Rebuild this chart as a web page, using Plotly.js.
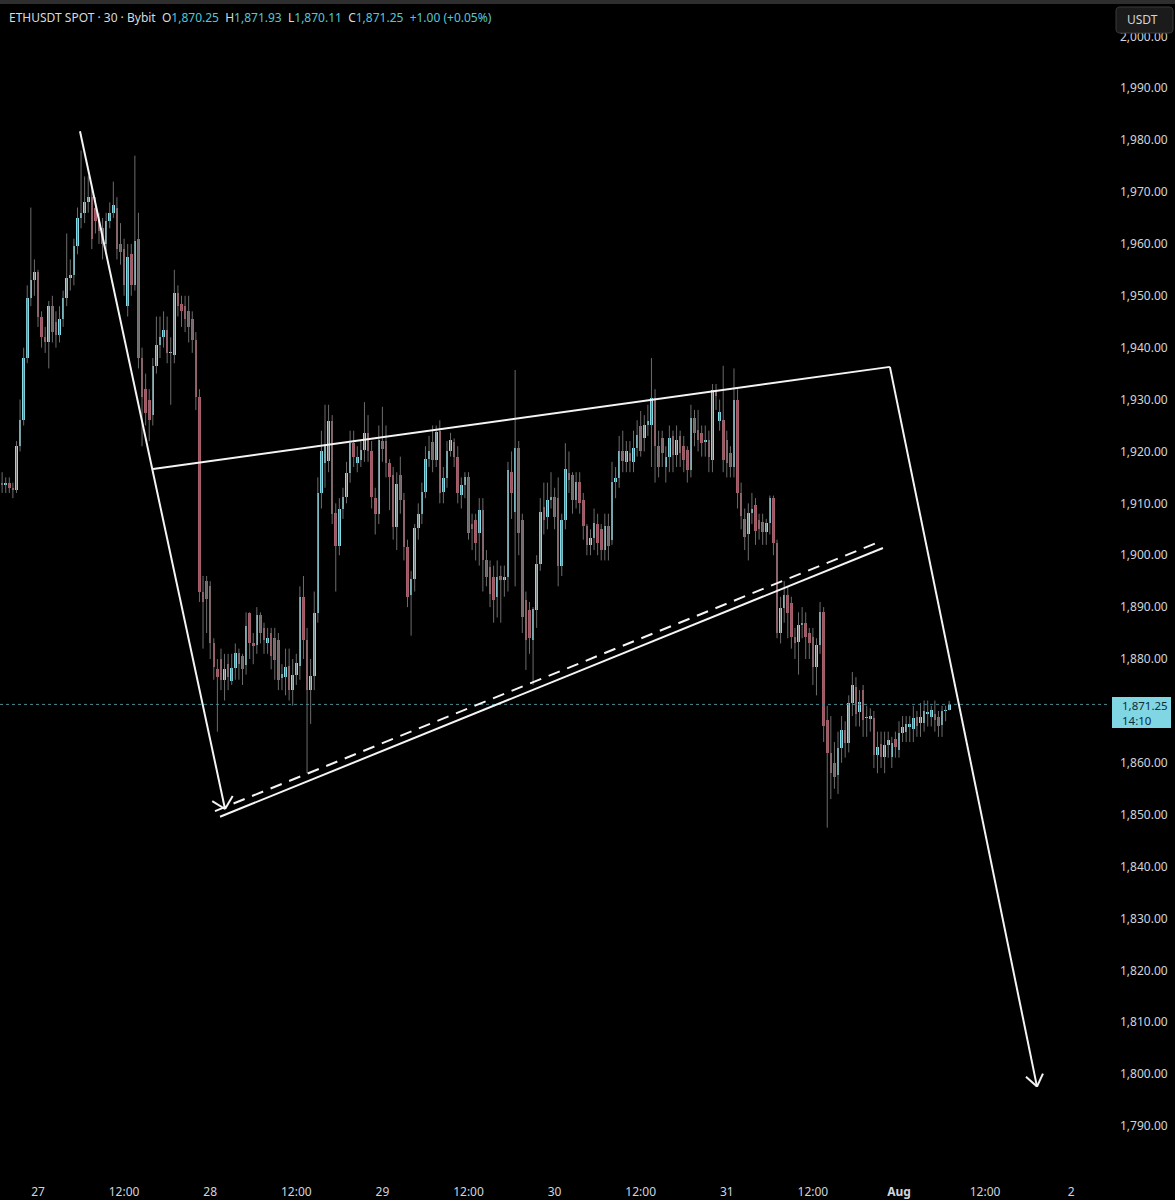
<!DOCTYPE html>
<html><head><meta charset="utf-8">
<script src="https://cdn.plot.ly/plotly-3.0.1.min.js"></script>
<style>html,body{margin:0;padding:0;background:#000;overflow:hidden}#chart{width:1175px;height:1200px}</style>
</head><body><div id="chart"></div>
<script>
// ---- data (30-minute bars, ETHUSDT) ----
const firstBar = '2023-07-26T19:00:00Z';
const barMinutes = 30;
const opens = [
1914,1913.5,1914,1913,1912.5,1921,1926,1938,1949.5,1953,
1954.5,1946,1942,1941,1948,1945,1942.5,1945.5,1949.5,1953.5,
1954,1959.5,1965,1966,1968,1969,1967,1964.5,1963,1960,
1964.5,1966,1967,1960,1959,1948,1958,1952,1961,1938,
1932,1930,1927,1936.5,1940.5,1942,1943.5,1939,1938.5,1950.5,
1948.5,1948,1947,1945.5,1941.5,1930.5,1893,1895,1894,1883,
1878,1880,1876,1879,1875.7,1878.3,1881.2,1880.5,1878.9,1888.8,
1883,1882.7,1888.5,1886,1883,1885,1884,1883.7,1876.3,1876.5,
1878.6,1874,1877,1878.6,1892,1883.7,1874,1876.7,1888.8,1912,
1917.7,1918.1,1925.8,1908.1,1901.7,1909,1911.3,1915.8,1921.6,1917.7,
1918.4,1920.3,1923.5,1920,1911,1908,1922,1922,1917.7,1915.4,
1905.5,1915.4,1910.6,1901.6,1892.3,1895.5,1905.2,1908,1912.2,1918.6,
1921.9,1918.3,1924,1912.2,1914.8,1920,1921.9,1919,1911.6,1913.5,
1915.1,1906,1906.8,1904.2,1908.7,1899,1897.8,1895.9,1892,1896,
1895.3,1895.9,1916,1908.4,1920.6,1906.8,1891.4,1889.4,1883.7,1889.5,
1898.4,1909.3,1907.4,1910.6,1911.3,1911,1898,1906.8,1915.8,1915.4,
1910.6,1914.2,1910.7,1905.6,1902,1903.3,1906,1905,1901,1905.6,
1903,1914.2,1914.9,1920,1918,1919.7,1918,1920.7,1925,1922.6,
1925.1,1925.1,1930.3,1921,1922.6,1917,1919,1922.9,1919.4,1922.9,
1921,1920.3,1916.5,1926.4,1924.2,1923.5,1921.9,1922.3,1918.4,1931.9,
1925.8,1926.1,1922.3,1919.7,1917.1,1930,1912,1907,1904,1908.1,
1909.6,1906.8,1906.5,1904.5,1906.2,1911,1902.3,1885,1889.8,1892.3,
1890.7,1884.3,1883.3,1886.6,1887,1885,1884.3,1878.5,1882.7,1889.1,
1868.3,1861.8,1860,1857.7,1862.8,1866.3,1863.8,1871.5,1874.7,1869.8,
1874,1868.6,1868.5,1868.6,1861.5,1863.7,1861.2,1863.4,1861.2,1864.5,
1862.5,1865.7,1866,1866.9,1866.6,1868.9,1867.6,1867.6,1869.5,1868.9,
1869.5,1868.9,1867.3,1869.9,1870.25];
const highs = [
1916,1915,1915,1914,1922,1930,1940,1952,1967,1957,
1955,1947,1944,1949,1950,1947,1948,1951,1962,1957,
1961,1967,1978,1973,1973,1971,1969,1966,1965,1966,
1968,1972,1969,1964,1961,1960,1960,1977,1966,1940,
1935,1932,1938,1946,1946,1947,1946,1942,1955,1952,
1950,1950,1950,1947,1943,1932,1896,1896,1895,1884,
1880,1882,1881,1881,1881,1883,1882,1881,1889,1889,
1885,1890,1889,1887,1886,1886,1886,1885,1879,1882,
1882,1880,1881,1894,1896,1886,1880,1893,1915,1924,
1929,1929,1927,1910,1911,1913,1918,1924,1924,1921,
1922,1929.5,1927,1922,1913,1925,1928.6,1925,1918.5,1917,
1916,1919,1912,1903,1897,1906,1910,1914,1921,1923,
1925,1925,1926,1917,1922,1923.6,1922.5,1921,1915,1916,
1916,1908,1908,1911,1911,1901,1899,1898,1899,1898,
1898,1918,1920,1935.7,1922,1908,1893,1891,1890,1900,
1911,1914,1914,1916,1913,1915,1908,1921.6,1920,1916,
1916,1916,1912,1906,1905,1909,1908,1906,1908,1908,
1918,1917,1923,1924,1922,1922,1924,1926,1927.8,1927,
1929,1938,1932,1924,1924,1921,1925,1924,1925,1924,
1923,1921,1929,1928,1928,1925,1925,1924,1933,1933,
1930,1936.5,1924,1921,1936,1932,1914,1909,1910,1912,
1911,1908,1908,1907,1911.5,1911.5,1903,1892,1895,1894,
1892,1886,1889,1890,1889,1886,1886,1884,1891,1890,
1871,1869,1864,1866,1869,1868,1873,1877.5,1876.5,1874,
1875,1871,1870.5,1870,1866,1866,1866,1866,1865,1866,
1868,1869,1869,1869,1871,1870,1871.5,1872,1872,1871,
1872,1870,1871,1871,1871.93];
const lows = [
1912,1912,1912,1911,1912,1920,1925,1937,1948,1950,
1944,1940,1939,1936,1941,1940,1941,1944,1948,1951,
1952,1958,1963,1964,1966,1959,1962,1960,1957,1958,
1963,1965,1957,1956,1950,1946,1950,1951,1936,1921,
1925,1922,1925,1935,1938,1940,1937,1929,1937,1946,
1944,1943,1941,1939,1928,1891,1882,1885,1880,1876,
1866,1874,1872,1874,1875,1876,1876,1875,1877,1880,
1879,1881,1883,1881,1881,1878,1876,1874,1874,1873,
1872,1871,1875,1876,1880,1858,1867.5,1874,1887,1909,
1913,1916,1906,1893,1900,1907,1910,1914,1917,1916,
1917,1918,1918,1909,1904,1906,1918,1915,1908.7,1903,
1901,1908,1899,1890,1884.5,1893,1903,1906,1911,1917,
1916,1917,1910,1910,1913,1919,1917,1910,1909,1911,
1903,1901,1899,1898,1893,1894,1890,1887,1888,1887,
1892,1893,1907,1894,1900,1885,1877.9,1881,1875,1886,
1897,1904,1905,1909,1905,1894,1896,1905,1912,1908,
1909,1908,1903,1900,1900,1901,1900,1899,1899,1899,
1902,1911,1913,1916,1916,1916,1916,1919,1919,1920,
1923,1917,1914,1915,1917,1914,1916,1916,1917,1917,
1916,1914,1915,1921,1920,1919,1919,1916,1916,1928,
1924,1916,1915,1915,1915,1909,1905,1901,1899,1906,
1902,1903,1902,1902,1904,1900,1884,1883,1887,1884,
1882,1880,1877,1884,1880,1880,1875,1873,1881,1864,
1847.5,1853,1855,1854,1860,1861,1862,1869,1867,1867,
1865,1865,1866,1859,1858,1859,1858,1861,1859,1861,
1861,1864,1864,1864,1864,1865,1865,1866,1867,1867,
1866,1865,1865,1868,1870.11];
const closes = [
1913.5,1914,1913,1912.5,1921,1926,1938,1949.5,1953,1954.5,
1946,1942,1941,1948,1943,1942.5,1945.5,1949.5,1953.5,1954,
1959.5,1965,1966,1968,1969,1961,1964.5,1962.5,1960,1964.5,
1966,1967.5,1959,1958.5,1952,1957.5,1952,1960.5,1938,1930.5,
1927.5,1926,1936.5,1940.5,1942,1943.5,1939,1939.2,1950.5,1948,
1947,1945.5,1944,1941.5,1930.5,1893,1891,1891.5,1883,1878.5,
1876.5,1876,1878,1876.5,1878.3,1881.2,1879,1878,1886.3,1883,
1882.5,1888.5,1885,1883.7,1884,1880.5,1879.8,1876,1877.2,1878.5,
1874,1877,1879.2,1892,1883.7,1874,1876.7,1888.8,1912,1920,
1921,1925.8,1908,1901.7,1909,1911.3,1915.8,1921.6,1919,1919,
1920.3,1923.5,1920,1911.3,1908,1922.2,1920.5,1917.7,1915,1905.5,
1913.8,1910.6,1901.6,1892,1895.5,1905.2,1908,1912.2,1918.6,1920,
1918.3,1923.8,1912,1914.8,1920,1922.2,1919,1912,1913.5,1915.1,
1904.2,1905,1902.3,1908.7,1899,1895.9,1892.6,1891.4,1895.9,1895.3,
1895.9,1916.4,1912,1920.6,1904.2,1888.1,1883.7,1884,1889.7,1898.4,
1908.4,1906.8,1910.6,1911.3,1907.4,1898,1906.8,1916.7,1914.5,1910.6,
1914.2,1910,1905.6,1902,1903.3,1906.2,1902.4,1901,1905.6,1901.7,
1914.2,1914.9,1920,1918.1,1920,1918.1,1920.7,1923.2,1920,1925.1,
1925.8,1930.3,1921,1917.1,1919.7,1919,1922.6,1919.4,1922.3,1919.7,
1918.4,1916.5,1926.4,1923.5,1922.3,1921.6,1921.9,1919,1931.9,1930.6,
1927.7,1918.4,1917.8,1917.1,1930,1912,1907.5,1903.6,1908.1,1909,
1904.6,1905,1904.5,1906.2,1911,1902.3,1885,1889.8,1892.3,1888.8,
1884.3,1883,1886.6,1887,1884.3,1883,1878.5,1882.7,1889.1,1867,
1861.8,1858,1857.3,1862.8,1866.3,1863.8,1871.5,1875,1869.5,1871.8,
1868.3,1868.6,1869,1861.5,1863.1,1861.2,1863.4,1864.4,1863.8,1863.1,
1865.7,1866.9,1867.5,1867.5,1868.6,1867,1868.9,1869.9,1869.8,1870.2,
1868.2,1867,1869.9,1870.1,1871.25];

const xTickVals = ['2023-07-27 00:00','2023-07-27 12:00','2023-07-28 00:00','2023-07-28 12:00','2023-07-29 00:00','2023-07-29 12:00','2023-07-30 00:00','2023-07-30 12:00','2023-07-31 00:00','2023-07-31 12:00','2023-08-01 00:00','2023-08-01 12:00','2023-08-02 00:00'];
const xTickText = ['27','12:00','28','12:00','29','12:00','30','12:00','31','12:00','<b>Aug</b>','12:00','2'];
// 1,870.00 is hidden behind the last-price label in the reference
const yTickVals = [1790,1800,1810,1820,1830,1840,1850,1860,1880,1890,1900,1910,1920,1930,1940,1950,1960,1970,1980,1990,2000];
const lastPrice = 1871.25;
const lastPriceText = '1,871.25';
const countdownText = '14:10';

// drawn trend lines (time, price)
const lineDown1 = [['2023-07-27 05:51',1981.7],['2023-07-28 02:04',1851.1]];
const arrow1    = [['2023-07-28 00:17',1852.6],['2023-07-28 02:04',1851.1],['2023-07-28 03:08',1853.6]];
const lineTop   = [['2023-07-27 16:02',1916.6],['2023-07-31 22:44',1936.3]];
const lineDown2 = [['2023-07-31 22:44',1936.3],['2023-08-01 19:14',1797.6]];
const arrow2    = [['2023-08-01 17:42',1799.5],['2023-08-01 19:14',1797.6],['2023-08-01 20:04',1800.1]];
const lineLow   = [['2023-07-28 01:22',1849.6],['2023-07-31 21:46',1901.4]];
const lineDash  = [['2023-07-28 00:40',1850.7],['2023-07-31 21:38',1902.8]];

// ---- build ----
function fmt(ms){return new Date(ms).toISOString().slice(0,19).replace('T',' ');}
const t0 = Date.parse(firstBar);
const times = opens.map((_,i)=>fmt(t0 + i*barMinutes*60000));

const upColor='#84dde9', downColor='#a85e6b', wickColor='#6c6c6c';
const wx=[], wy=[];
times.forEach((t,i)=>{wx.push(t,t,null);wy.push(lows[i],highs[i],null);});
const bodyBase = opens.map((o,i)=>Math.min(o,closes[i]));
const bodyH = opens.map((o,i)=>Math.max(Math.abs(closes[i]-o),0.25));
const bodyCol = opens.map((o,i)=>closes[i]>=o?upColor:downColor);

const traces = [
 {type:'scatter',mode:'lines',x:wx,y:wy,line:{color:wickColor,width:1},hoverinfo:'skip',connectgaps:false},
 {type:'bar',x:times,y:bodyH,base:bodyBase,width:barMinutes*60000*0.72,marker:{color:bodyCol,line:{width:0}},hoverinfo:'skip'}
];

const W=1110, H=1180; // plot area px
const px=(x)=>x/W, py=(y)=>1-y/H;
const lineCol='#f4f4f4';
function seg(a,b,dash){return {type:'line',xref:'x',yref:'y',x0:a[0],y0:a[1],x1:b[0],y1:b[1],line:{color:lineCol,width:2,dash:dash||'solid'}};}
function rrect(x0,y0,x1,y1,r){
 const X=(v)=>px(v).toFixed(5), Y=(v)=>py(v).toFixed(5);
 return `M${X(x0+r)},${Y(y0)} L${X(x1-r)},${Y(y0)} Q${X(x1)},${Y(y0)} ${X(x1)},${Y(y0+r)} L${X(x1)},${Y(y1-r)} Q${X(x1)},${Y(y1)} ${X(x1-r)},${Y(y1)} L${X(x0+r)},${Y(y1)} Q${X(x0)},${Y(y1)} ${X(x0)},${Y(y1-r)} L${X(x0)},${Y(y0+r)} Q${X(x0)},${Y(y0)} ${X(x0+r)},${Y(y0)} Z`;
}
const shapes = [
 {type:'line',xref:'paper',yref:'y',x0:0,x1:1,y0:lastPrice,y1:lastPrice,line:{color:'#4f8892',width:1,dash:'dot'}},
 seg(lineDown1[0],lineDown1[1]),
 seg(arrow1[0],arrow1[1]), seg(arrow1[1],arrow1[2]),
 seg(lineTop[0],lineTop[1]),
 seg(lineDown2[0],lineDown2[1]),
 seg(arrow2[0],arrow2[1]), seg(arrow2[1],arrow2[2]),
 seg(lineLow[0],lineLow[1]),
 seg(lineDash[0],lineDash[1],'12px,8px'),
 {type:'rect',xref:'paper',yref:'paper',x0:-0.01,x1:1.07,y0:py(4),y1:1.01,fillcolor:'#2e2e2e',line:{width:0}},
 {type:'path',xref:'paper',yref:'paper',path:rrect(1116,7,1173,33,4),fillcolor:'#1b1b1b',line:{color:'#3a3a3a',width:1}},
 {type:'rect',xref:'paper',yref:'paper',x0:px(1112),x1:px(1171),y0:py(728),y1:py(697),fillcolor:'#80d7e3',line:{width:0}}
];

const cy='#56c6d3', wt='#d8dadf', sp='\u00a0\u00a0';
const header = `<span style="color:${wt}">ETHUSDT SPOT · 30 · Bybit</span>${sp}`+
 `<span style="color:${wt}">O</span><span style="color:${cy}">1,870.25</span>${sp}`+
 `<span style="color:${wt}">H</span><span style="color:${cy}">1,871.93</span>${sp}`+
 `<span style="color:${wt}">L</span><span style="color:${cy}">1,870.11</span>${sp}`+
 `<span style="color:${wt}">C</span><span style="color:${cy}">1,871.25</span>${sp}`+
 `<span style="color:${cy}">+1.00 (+0.05%)</span>`;

const annotations = [
 {xref:'paper',yref:'paper',x:px(7),y:py(18),xanchor:'left',yanchor:'middle',text:header,showarrow:false,font:{family:'Noto Sans',size:12,color:wt}},
 {xref:'paper',yref:'paper',x:px(1125),y:py(20),xanchor:'left',yanchor:'middle',text:'USDT',showarrow:false,font:{family:'Noto Sans',size:12,color:'#d1d4dc'}},
 {xref:'paper',yref:'paper',x:px(1120),y:py(705),xanchor:'left',yanchor:'middle',text:lastPriceText,showarrow:false,font:{family:'Noto Sans',size:11.5,color:'#0f2b36'}},
 {xref:'paper',yref:'paper',x:px(1120),y:py(720.5),xanchor:'left',yanchor:'middle',text:countdownText,showarrow:false,font:{family:'Noto Sans',size:11.5,color:'#0f2b36'}}
];

const layout = {
 width:1175,height:1200,margin:{l:0,r:65,t:0,b:20},
 paper_bgcolor:'#000',plot_bgcolor:'#000',showlegend:false,hovermode:false,bargap:0,
 font:{family:'Noto Sans',color:'#d1d4dc',size:12},
 xaxis:{type:'date',range:['2023-07-26 18:42:10','2023-08-02 05:24:36'],showgrid:false,zeroline:false,showline:false,ticks:'',
   tickmode:'array',tickvals:xTickVals,ticktext:xTickText,tickfont:{family:'Noto Sans',size:12,color:'#d1d4dc'},ticklabelstandoff:3,fixedrange:true},
 yaxis:{side:'right',range:[1779.6,2007.0],showgrid:false,zeroline:false,showline:false,ticks:'',
   tickmode:'array',tickvals:yTickVals,ticktext:yTickVals.map(v=>v.toLocaleString('en-US',{minimumFractionDigits:2,maximumFractionDigits:2})),
   tickfont:{family:'Noto Sans',size:12,color:'#d1d4dc'},ticklabelstandoff:9,fixedrange:true},
 shapes:shapes,annotations:annotations
};
Plotly.newPlot('chart',traces,layout,{displayModeBar:false,staticPlot:true});
</script></body></html>
